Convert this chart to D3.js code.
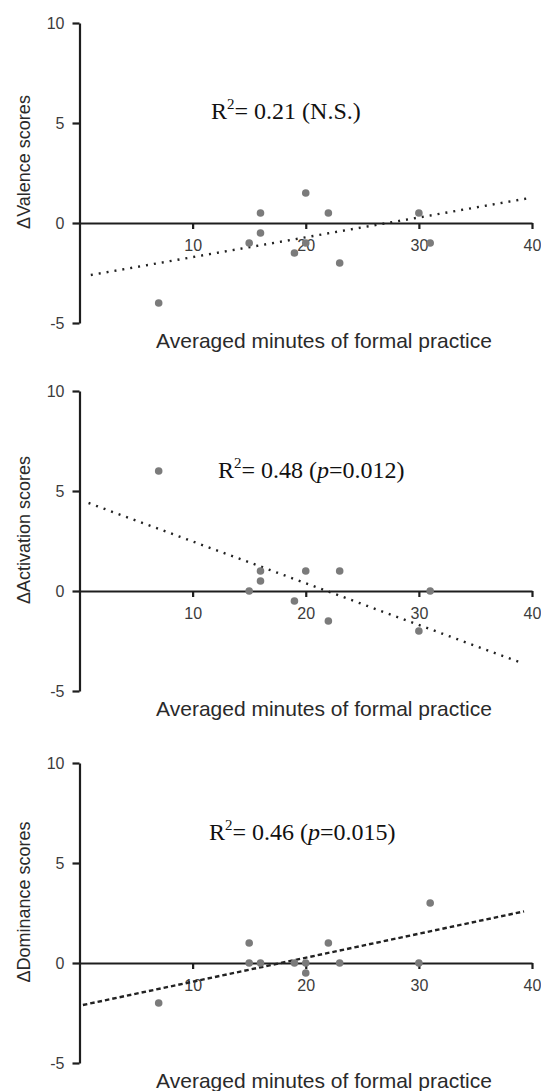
<!DOCTYPE html>
<html>
<head>
<meta charset="utf-8">
<script src="https://cdn.jsdelivr.net/npm/d3@7"></script>
<style>
  body { margin: 0; background: #fff; }
  svg { display: block; }
  .axis path, .axis line { stroke: #1e1e1e; stroke-width: 2.2px; }
  .axis text { font-family: "Liberation Sans", Arial, sans-serif; font-size: 16px; fill: #3c3c3c; }
  .axis-title { font-family: "Liberation Sans", Arial, sans-serif; fill: #2a2a2a; }
  .stat { font-family: "Liberation Serif", "Times New Roman", serif; font-size: 24px; fill: #111; }
</style>
</head>
<body>
<svg id="chart"></svg>
<script>
const width = 541;
const height = 1091;

// values
const valenceX = [7, 15, 16, 16, 19, 20, 20, 22, 23, 30, 31];
const valenceY = [-4, -1, 0.5, -0.5, -1.5, -1, 1.5, 0.5, -2, 0.5, -1];
const activationX = [7, 15, 16, 16, 19, 20, 22, 23, 30, 31];
const activationY = [6, 0, 1, 0.5, -0.5, 1, -1.5, 1, -2, 0];
const dominanceX = [7, 15, 15, 16, 19, 20, 20, 22, 23, 30, 31];
const dominanceY = [-2, 1, 0, 0, 0, 0, -0.5, 1, 0, 0, 3];

// fitted line end points
const valenceFitX = [1, 39.5];
const valenceFitY = [-2.6, 1.22];
const activationFitX = [0.8, 39.1];
const activationFitY = [4.4, -3.6];
const dominanceFitX = [0.3, 39.3];
const dominanceFitY = [-2.1, 2.58];

const xTicks = [10, 20, 30, 40];
const yTicks = [-5, 0, 5, 10];
const yTitles = ["\u0394Valence scores", "\u0394Activation scores", "\u0394Dominance scores"];
const r2Values = ["0.21", "0.48", "0.46"];
const pValues = [null, "0.012", "0.015"];
const xTitle = "Averaged minutes of formal practice";

const panels = [
  { xs: valenceX, ys: valenceY, fx: valenceFitX, fy: valenceFitY, dash: "2,6" },
  { xs: activationX, ys: activationY, fx: activationFitX, fy: activationFitY, dash: "2,6" },
  { xs: dominanceX, ys: dominanceY, fx: dominanceFitX, fy: dominanceFitY, dash: "4.5,3" },
];

// layout
const panelTop = [23, 391, 763];
const panelH = 300;
const statPos = [[211, 119], [218, 478], [209, 840]];

const svg = d3.select("#chart").attr("width", width).attr("height", height);
svg.append("rect").attr("width", width).attr("height", height).attr("fill", "#fff");

const x = d3.scaleLinear().domain([0, 40]).range([79.5, 532]);
// plain hyphen for negatives, like the original
const plain = (d) => String(d);

panels.forEach((p, i) => {
  const y = d3.scaleLinear().domain([-5, 10]).range([panelTop[i] + panelH, panelTop[i]]);
  const g = svg.append("g");

  //y axis
  g.append("g")
    .attr("class", "axis")
    .attr("transform", "translate(" + x(0) + ",0)")
    .call(d3.axisLeft(y).tickValues(yTicks).tickFormat(plain).tickSize(7).tickSizeOuter(0).tickPadding(8));

  //x axis sits on zero
  g.append("g")
    .attr("class", "axis")
    .attr("transform", "translate(0," + y(0) + ")")
    .call(d3.axisBottom(x).tickValues(xTicks).tickFormat(plain).tickSize(6).tickSizeOuter(0).tickPadding(11));

  // fitted line
  g.append("line")
    .attr("x1", x(p.fx[0]))
    .attr("y1", y(p.fy[0]))
    .attr("x2", x(p.fx[1]))
    .attr("y2", y(p.fy[1]))
    .attr("stroke", "#222")
    .attr("stroke-width", 2.4)
    .attr("stroke-dasharray", p.dash);

  g.selectAll("circle")
    .data(p.xs.map((v, j) => [v, p.ys[j]]))
    .enter()
    .append("circle")
    .attr("cx", (d) => x(d[0]))
    .attr("cy", (d) => y(d[1]))
    .attr("r", 3.8)
    .attr("fill", "#7b7b7b");

  // axis titles
  g.append("text")
    .attr("class", "axis-title")
    .attr("transform", "translate(30," + ((y(10) + y(-5)) / 2 - 11) + ") rotate(-90)")
    .attr("text-anchor", "middle")
    .style("font-size", "18px")
    .text(yTitles[i]);

  g.append("text")
    .attr("class", "axis-title")
    .attr("x", 324)
    .attr("y", y(-5) + 25)
    .attr("text-anchor", "middle")
    .style("font-size", "21px")
    .text(xTitle);

  // R squared note
  const t = g.append("text")
    .attr("class", "stat")
    .attr("x", statPos[i][0])
    .attr("y", statPos[i][1]);
  t.append("tspan").text("R");
  t.append("tspan").attr("dy", -10).style("font-size", "15px").text("2");
  t.append("tspan").attr("dy", 10).text("= " + r2Values[i] + " (");
  if (pValues[i] === null) {
    t.append("tspan").text("N.S.)");
  } else {
    t.append("tspan").style("font-style", "italic").text("p");
    t.append("tspan").text("=" + pValues[i] + ")");
  }
});
</script>
</body>
</html>
